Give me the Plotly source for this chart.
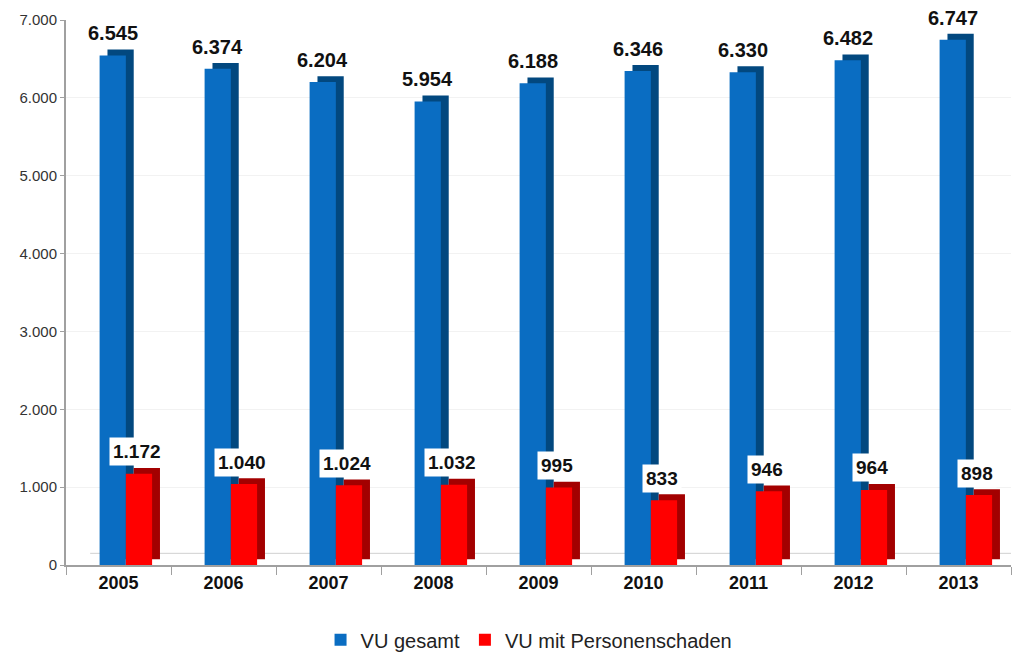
import plotly.graph_objects as go

years = ["2005", "2006", "2007", "2008", "2009", "2010", "2011", "2012", "2013"]
vu_gesamt = [6545, 6374, 6204, 5954, 6188, 6346, 6330, 6482, 6747]
vu_personen = [1172, 1040, 1024, 1032, 995, 833, 946, 964, 898]
series_names = ["VU gesamt", "VU mit Personenschaden"]

BLUE, BLUE_DARK = "#0a6dc2", "#02487f"
RED, RED_DARK = "#ff0000", "#a30000"
W = 0.25
DX = 0.075   # depth in category units
DY = 75      # depth in value units

def de(v):
    return f"{v:,}".replace(",", ".")

fig = go.Figure()

def add_bar(vals, color, dark, off, name):
    # side/top face (3D depth)
    fig.add_trace(go.Bar(x=years, y=vals, base=DY, offset=off + DX, width=W,
                         marker=dict(color=dark, line_width=0),
                         showlegend=False, hoverinfo="skip"))
    fig.add_trace(go.Bar(x=years, y=vals, offset=off, width=W, name=name,
                         marker=dict(color=color, line_width=0)))

# floor back edge (3D decoration)
fig.add_shape(type="line", xref="x", yref="y", x0=-0.27, x1=len(years) - 0.4,
              y0=2 * DY, y1=2 * DY, line=dict(color="#d0d0d0", width=1), layer="below")

add_bar(vu_gesamt, BLUE, BLUE_DARK, -0.18, series_names[0])
add_bar(vu_personen, RED, RED_DARK, 0.07, series_names[1])

for i, v in enumerate(vu_gesamt):
    fig.add_annotation(x=i, y=v, text=f"<b>{de(v)}</b>", showarrow=False,
                       xshift=-6, yshift=22, font=dict(family="Arial", size=20, color="#111"))
for i, v in enumerate(vu_personen):
    fig.add_annotation(x=i, y=v, text=f"<b>{de(v)}</b>", showarrow=False,
                       xshift=18, yshift=22, bgcolor="white", borderpad=3,
                       font=dict(family="Arial", size=19, color="#111"))

fig.update_layout(
    width=1023, height=652,
    barmode="overlay",
    separators=",.",
    paper_bgcolor="white", plot_bgcolor="white",
    margin=dict(l=58, r=20, t=12, b=95),
    font=dict(family="Arial", color="#222"),
    legend=dict(orientation="h", x=0.49, xanchor="center", yref="container",
                y=0.031, yanchor="middle", itemwidth=30,
                font=dict(size=20, color="#222"), traceorder="normal"),
    showlegend=True,
)
fig.update_xaxes(type="category", range=[-0.5, len(years) - 0.5], automargin=False,
                 showline=True, linecolor="#a0a0a0", linewidth=2,
                 ticks="outside", ticklen=8, tickcolor="#a0a0a0", tickson="boundaries",
                 tickfont=dict(size=18, color="#111", family="Arial"),
                 tickprefix="<b>", ticksuffix="</b>", tickangle=0)
fig.update_yaxes(range=[0, 7000], dtick=1000, tickformat=",d", automargin=False,
                 showline=True, linecolor="#a0a0a0", linewidth=2,
                 ticks="outside", ticklen=4, tickcolor="#a0a0a0",
                 showgrid=True, gridcolor="#f2f2f2", zeroline=False,
                 tickfont=dict(size=15, color="#333"))

fig.write_html("out.html")
